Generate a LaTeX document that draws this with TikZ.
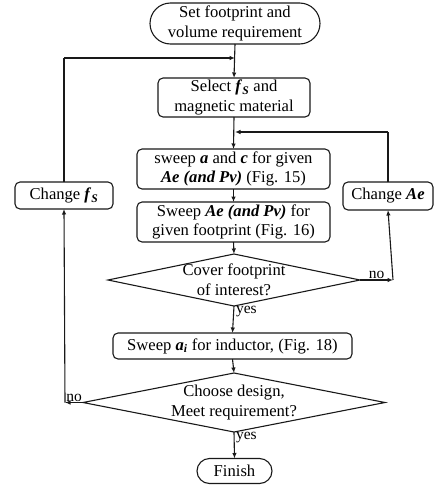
\documentclass[tikz,border=0pt]{standalone}
\usepackage{fontspec}
\setmainfont{Liberation Serif}
\usetikzlibrary{shapes.geometric,shapes.misc,arrows.meta}
\newcommand{\bi}[1]{\textbf{\textit{#1}}}
\begin{document}
\begin{tikzpicture}[x=1pt,y=-1pt,
  font=\fontsize{16.6}{19.5}\selectfont,
  every node/.style={inner sep=0pt, outer sep=0pt},
  line/.style={draw=black!90, line width=1.1pt},
  arr/.style={line, -{Latex[length=5.5pt,width=4.5pt]}},
  term/.style={line, rounded rectangle, align=center},
  proc/.style={line, rounded corners=5pt, align=center},
  dec/.style={line, diamond},
  lbl/.style={font=\fontsize{15.5}{18}\selectfont}
]
\useasboundingbox (0,0) rectangle (435,485);

\node[term, minimum width=170pt, minimum height=41pt] (start) at (235,23.5) {Set footprint and\\volume requirement};
\node[proc, minimum width=152pt, minimum height=39pt] (select) at (234,97.5) {Select \bi{f}\textsubscript{\bi{S}} and\\magnetic material};
\node[proc, minimum width=193pt, minimum height=40pt] (sw1) at (233.5,169) {sweep \bi{a} and \bi{c} for given\\\bi{Ae (and Pv)} (Fig. 15)};
\node[proc, minimum width=193pt, minimum height=40pt] (sw2) at (233.5,222) {Sweep \bi{Ae (and Pv)} for\\given footprint (Fig. 16)};
\node[proc, minimum width=98pt, minimum height=27pt] (cfs) at (64,195.5) {Change \bi{f}\textsubscript{\bi{S}}};
\node[proc, minimum width=90pt, minimum height=28pt] (cae) at (388,196) {Change \bi{Ae}};
\node[dec, minimum width=252pt, minimum height=52pt] (d1) at (234,280) {};
\node[align=center] at (d1.center) {Cover footprint\\of interest?};
\node[proc, minimum width=239pt, minimum height=26pt] (swai) at (232.5,346) {Sweep \bi{a\textsubscript{i}} for inductor, (Fig. 18)};
\node[dec, minimum width=302pt, minimum height=59pt] (d2) at (234,402.5) {};
\node[align=center] at (d2.center) {Choose design,\\Meet requirement?};
\node[term, minimum width=75pt, minimum height=25pt] (fin) at (234.5,471) {Finish};

\coordinate (j1) at (235,58);
\coordinate (j2) at (235,132);
\coordinate (c3) at (393,280);
\coordinate (c4) at (65,402.5);

\draw[arr] (start.south) -- (select.north);
\draw[line] (cfs.north) -- (cfs.north |- j1);
\draw[arr] (cfs.north |- j1) -- (j1);
\draw[arr] (select.south) -- (sw1.north);
\draw[line] (cae.north) -- (cae.north |- j2);
\draw[arr] (cae.north |- j2) -- (j2);
\draw[arr] (sw1.south) -- (sw2.north);
\draw[arr] (sw2.south) -- (d1.north);
\draw[arr] (d1.east) -- (c3) node[lbl, midway, above=1pt] {no};
\draw[arr] (c3) -- (cae.south);
\draw[arr] (d1.south) -- (swai.north);
\node[lbl, anchor=north west] at ([xshift=2pt]d1.south) {yes};
\draw[arr] (swai.south) -- (d2.north);
\draw[arr] (d2.west) -- (c4) node[lbl, midway, above=1pt] {no};
\draw[arr] (c4) -- (cfs.south);
\draw[arr] (d2.south) -- (fin.north);
\node[lbl, anchor=north west] at ([xshift=2pt]d2.south) {yes};
\end{tikzpicture}
\end{document}
